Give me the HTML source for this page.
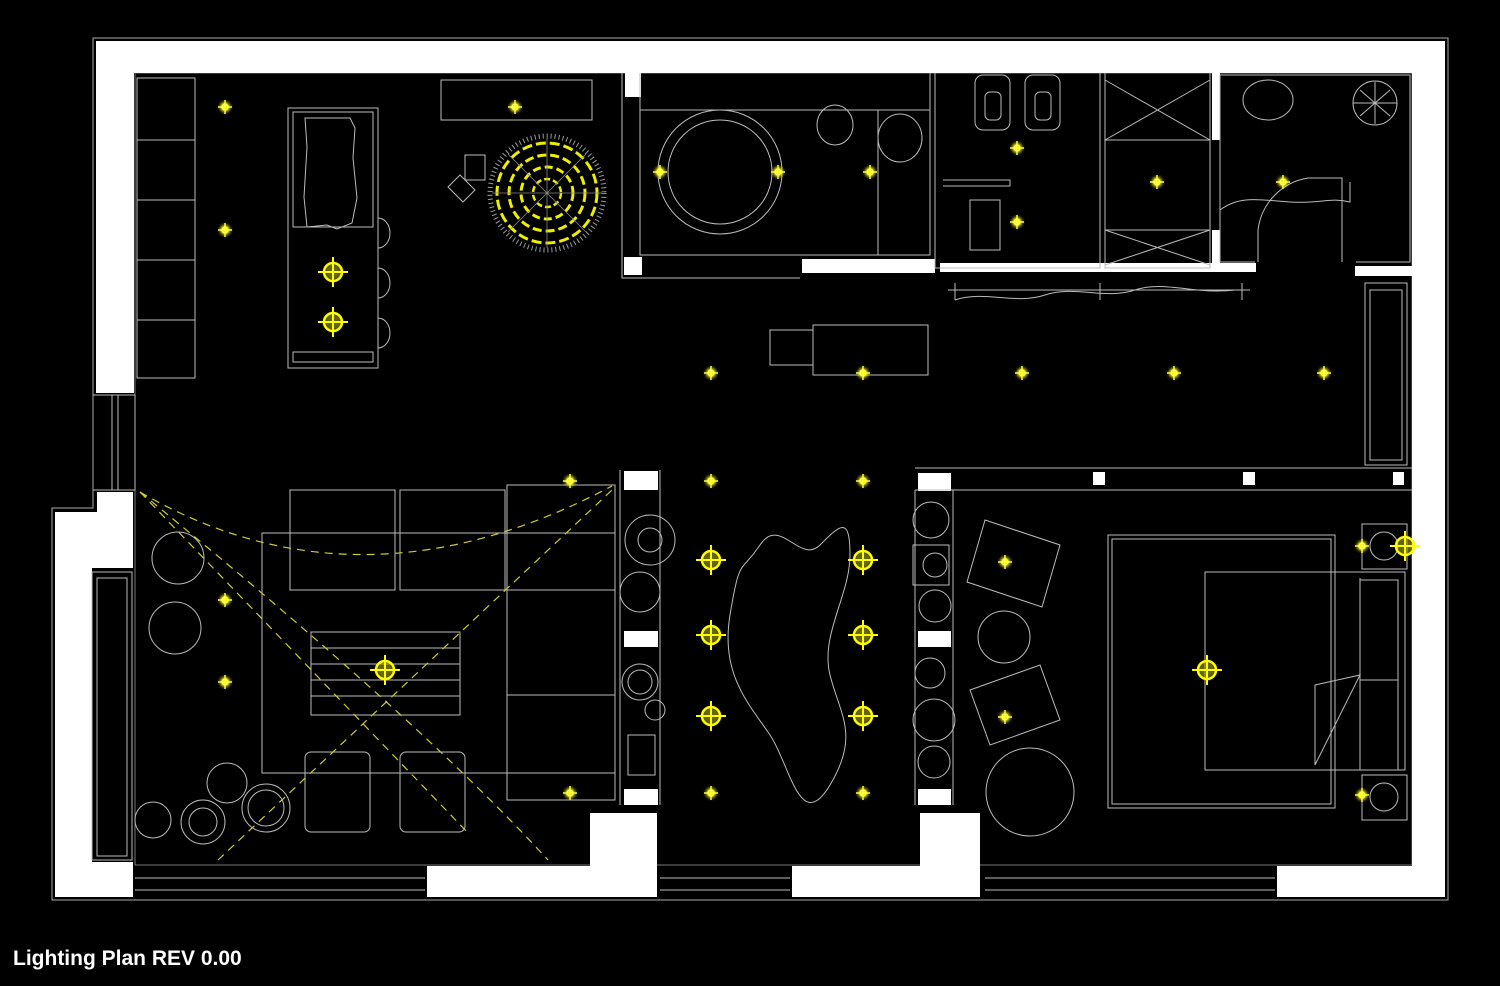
<!DOCTYPE html>
<html><head><meta charset="utf-8"><style>
html,body{margin:0;padding:0;background:#000;width:1500px;height:986px;overflow:hidden}
svg{display:block}
.t{position:absolute;left:13px;top:947px;color:#fff;font:bold 21px "Liberation Sans",sans-serif;letter-spacing:0px}
</style></head><body>
<svg width="1500" height="986" viewBox="0 0 1500 986" xmlns="http://www.w3.org/2000/svg">
<defs>
<filter id="g" x="-1" y="-1" width="3" height="3"><feGaussianBlur stdDeviation="1.6"/></filter>
<g id="s"><circle r="5" fill="#ff0" filter="url(#g)"/><path d="M-7 0H7M0-7V7" stroke="#ff3" stroke-width="1.5"/><circle r="3" fill="none" stroke="#ff6" stroke-width="1.2"/></g>
<g id="L"><circle r="9" fill="#aa0" opacity=".6" filter="url(#g)"/><circle r="9" fill="none" stroke="#ff0" stroke-width="2.5"/><path d="M-15 0H15M0-15V15" stroke="#ff0" stroke-width="2"/></g>
</defs>
<rect width="1500" height="986" fill="#000"/>
<g fill="none" stroke="#aaa" stroke-width="1">
<path d="M93 38H1448V900H52V508H93Z"/>
<path d="M135 73H1412V865H135Z" stroke="#777"/>
</g>
<g fill="#fff">
<rect x="96" y="41" width="1349" height="32"/>
<rect x="96" y="41" width="38" height="352"/>
<rect x="625" y="73" width="16" height="24"/>
<rect x="1412" y="41" width="33" height="856"/>
<path d="M97 492H133V568H92V862H133V897H55V512H97Z"/>
<path d="M427 866H590V813H657V897H427Z"/>
<path d="M792 866H920V813H980V897H792Z"/>
<rect x="1277" y="866" width="135" height="31"/>
<rect x="624" y="257" width="18" height="18"/>
<rect x="802" y="259" width="133" height="14"/>
<rect x="940" y="263" width="316" height="9"/>
<rect x="1355" y="266" width="57" height="10"/>
<rect x="1212" y="73" width="8" height="67"/>
<rect x="1212" y="230" width="8" height="33"/>
<rect x="624" y="471" width="34" height="19"/>
<rect x="624" y="631" width="34" height="16"/>
<rect x="624" y="789" width="34" height="16"/>
<rect x="918" y="473" width="33" height="18"/>
<rect x="918" y="631" width="33" height="16"/>
<rect x="918" y="789" width="33" height="16"/>
<rect x="1093" y="472" width="12" height="13"/>
<rect x="1243" y="472" width="12" height="13"/>
<rect x="1393" y="472" width="11" height="13"/>
</g>
<g fill="none" stroke="#bbb" stroke-width="1">
<path d="M93 395H135V490H93M112 395V490M118 395V490"/>
<path d="M135 878H425M135 890H425M660 878H790M660 890H790M985 878H1275M985 890H1275"/>
<path d="M137 78H195V378H137ZM137 140H195M137 200H195M137 260H195M137 320H195"/>
<rect x="288" y="108" width="90" height="260"/>
<rect x="293" y="112" width="80" height="115"/>
<path d="M305 118h45l5 10-2 30 4 40-5 25-15 6-10-4-20 2-3-30 3-50z"/>
<rect x="293" y="352" width="80" height="10"/>
<path d="M378 218a12 15 0 0 1 0 30M378 268a12 15 0 0 1 0 30M378 318a12 15 0 0 1 0 30"/>
<rect x="441" y="80" width="151" height="40"/>
<path d="M465 155h20v25h-20zM448 187l12-12 15 15-12 12z"/>
<path d="M622 73V278H800M640 73V255H930V73M640 110H930M878 110V255"/>
<circle cx="720" cy="172" r="62"/><circle cx="720" cy="172" r="52"/>
<ellipse cx="835" cy="125" rx="18" ry="20"/><ellipse cx="900" cy="138" rx="22" ry="24"/>
<path d="M935 73V268H1100V73M1100 73V268M1105 73V268H1210V73M1105 140H1210M1105 230H1210M1105 80L1210 140M1210 80L1105 140M1105 230L1210 265M1210 230L1105 265"/>
<rect x="975" y="75" width="35" height="55" rx="8"/><rect x="1025" y="75" width="35" height="55" rx="8"/>
<rect x="985" y="92" width="16" height="28" rx="5"/><rect x="1035" y="92" width="16" height="28" rx="5"/>
<path d="M943 180H1010V186H943"/><rect x="970" y="200" width="30" height="50"/>
<path d="M1220 75H1410V262H1356M1220 75V262H1255M1220 210c20-15 40-10 70-8s40-5 60 0v-20M1258 262V230a60 60 0 0 1 50-52H1342V262"/>
<ellipse cx="1268" cy="100" rx="25" ry="20"/>
<circle cx="1375" cy="103" r="22"/>
<path d="M1360 90l30 26M1390 90l-30 26M1375 82v42M1353 103h44"/>
<path d="M948 290H1250M955 283V300M1100 283V300M1242 283V300M955 300c30-10 60 5 90-5s60 5 90-5 60 5 100 0"/>
<rect x="813" y="325" width="115" height="50"/><rect x="770" y="330" width="43" height="35"/>
<rect x="1365" y="283" width="42" height="182"/><rect x="1370" y="290" width="32" height="170"/>
<path d="M915 468H1412M915 490H1412"/>
<rect x="262" y="533" width="353" height="240"/>
<path d="M290 490h105v100h-105zM400 490h105v100h-105zM507 485h108v105h-108zM507 590h108v105h-108zM507 695h108v105h-108z"/>
<rect x="311" y="632" width="149" height="83"/>
<path d="M311 648H460M311 664H460M311 680H460M311 696H460"/>
<rect x="305" y="752" width="65" height="80" rx="6"/><rect x="400" y="752" width="65" height="80" rx="6"/>
<path d="M620 470V805M660 470V805"/>
<circle cx="650" cy="540" r="25"/><circle cx="650" cy="540" r="12"/><circle cx="640" cy="592" r="20"/>
<circle cx="640" cy="682" r="18"/><circle cx="640" cy="682" r="12"/><circle cx="655" cy="710" r="10"/>
<rect x="628" y="735" width="27" height="40"/>
<circle cx="178" cy="558" r="26"/><circle cx="175" cy="628" r="26"/>
<circle cx="227" cy="783" r="20"/><circle cx="203" cy="822" r="22"/><circle cx="203" cy="822" r="14"/><circle cx="153" cy="820" r="18"/><circle cx="266" cy="808" r="24"/><circle cx="266" cy="808" r="18"/>
<rect x="92" y="572" width="40" height="288"/><rect x="97" y="578" width="30" height="278"/>
<path d="M760 545c20-30 40 20 60 0s30-30 30 10-30 80-20 120 30 60 0 110-40-20-60-50-50-60-40-120 10-40 30-70z"/>
<path d="M915 490V805M953 490V805"/>
<circle cx="931" cy="520" r="18"/><rect x="913" y="545" width="36" height="40"/><circle cx="935" cy="565" r="12"/>
<circle cx="935" cy="606" r="16"/><circle cx="930" cy="673" r="15"/><circle cx="934" cy="720" r="21"/><circle cx="934" cy="762" r="16"/>
<path d="M985 520l75 25-18 62-75-25zM970 690l70-25 20 55-70 25z"/>
<circle cx="1004" cy="637" r="26"/><circle cx="1030" cy="792" r="44"/>
<rect x="1108" y="535" width="227" height="273"/><rect x="1112" y="539" width="219" height="265"/>
<rect x="1205" y="572" width="200" height="198"/>
<path d="M1360 578V770M1360 580h38v100h-38M1360 680h38v90h-38M1315 685l45-10-45 90z"/>
<rect x="1362" y="524" width="45" height="45"/><rect x="1362" y="775" width="45" height="45"/>
<circle cx="1384" cy="546" r="14"/><circle cx="1384" cy="797" r="14"/>
</g>
<g fill="none" stroke="#cc3" stroke-width="1.2" stroke-dasharray="8 6">
<path d="M140 492Q360 620 612 486"/>
<path d="M140 492L470 835"/>
<path d="M218 860L612 490"/>
<path d="M140 492Q420 720 548 860"/>
</g>
<g transform="translate(547,193)" fill="none">
<circle r="57" stroke="#999" stroke-width="5" stroke-dasharray="1 3"/>
<circle r="50" stroke="#ee0" stroke-width="3" stroke-dasharray="10 4"/>
<circle r="38" stroke="#ee0" stroke-width="3" stroke-dasharray="9 4"/>
<circle r="26" stroke="#ee0" stroke-width="3" stroke-dasharray="8 4"/>
<circle r="14" stroke="#ee0" stroke-width="2.5" stroke-dasharray="6 3"/>
<path d="M-55 0H55M0-55V55M-39-39L39 39M39-39L-39 39" stroke="#888" stroke-width="0.8"/>
</g>
<g>
<use href="#s" x="225" y="107"/><use href="#s" x="225" y="230"/><use href="#s" x="515" y="107"/>
<use href="#s" x="660" y="172"/><use href="#s" x="778" y="172"/><use href="#s" x="870" y="172"/>
<use href="#s" x="1017" y="148"/><use href="#s" x="1017" y="222"/><use href="#s" x="1157" y="182"/><use href="#s" x="1283" y="182"/>
<use href="#s" x="711" y="373"/><use href="#s" x="863" y="373"/><use href="#s" x="1022" y="373"/><use href="#s" x="1174" y="373"/><use href="#s" x="1324" y="373"/>
<use href="#s" x="570" y="481"/><use href="#s" x="711" y="481"/><use href="#s" x="863" y="481"/>
<use href="#s" x="225" y="600"/><use href="#s" x="225" y="682"/>
<use href="#s" x="570" y="793"/><use href="#s" x="711" y="793"/><use href="#s" x="863" y="793"/>
<use href="#s" x="1005" y="562"/><use href="#s" x="1005" y="717"/><use href="#s" x="1362" y="546"/><use href="#s" x="1362" y="795"/>
<use href="#L" x="333" y="272"/><use href="#L" x="333" y="322"/><use href="#L" x="385" y="670"/><use href="#L" x="1207" y="670"/>
<use href="#L" x="711" y="560"/><use href="#L" x="863" y="560"/><use href="#L" x="711" y="635"/><use href="#L" x="863" y="635"/>
<use href="#L" x="711" y="716"/><use href="#L" x="863" y="716"/><use href="#L" x="1405" y="546"/>
</g>
</svg>
<div class="t">Lighting Plan REV 0.00</div>
</body></html>
